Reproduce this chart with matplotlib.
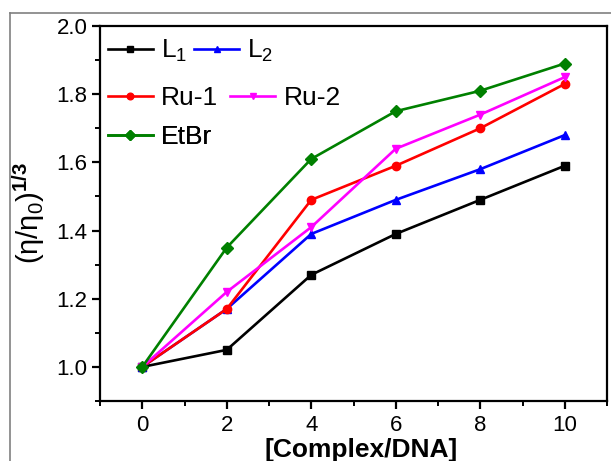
import numpy as np
import matplotlib
matplotlib.use("Agg")
import matplotlib.pyplot as plt
from matplotlib.lines import Line2D

plt.rcParams['font.family'] = ['Liberation Sans', 'DejaVu Sans']
plt.rcParams['mathtext.fontset'] = 'custom'
plt.rcParams['mathtext.rm'] = 'Liberation Sans'
plt.rcParams['mathtext.it'] = 'Liberation Sans'
plt.rcParams['mathtext.bf'] = 'Liberation Sans:bold'

# datos
ratio = [0, 2, 4, 6, 8, 10]
L1 = [1.00, 1.05, 1.27, 1.39, 1.49, 1.59]
L2 = [1.00, 1.17, 1.39, 1.49, 1.58, 1.68]
Ru1 = [1.00, 1.17, 1.49, 1.59, 1.70, 1.83]
Ru2 = [1.00, 1.22, 1.41, 1.64, 1.74, 1.85]
EtBr = [1.00, 1.35, 1.61, 1.75, 1.81, 1.89]

nombres = ['L$_1$', 'L$_2$', 'Ru-1', 'Ru-2', 'EtBr']
colores = ['black', '#0000FF', '#FF0000', '#FF00FF', '#008000']
marcas = ['s', '^', 'o', 'v', 'D']
series = [L1, L2, Ru1, Ru2, EtBr]

fig = plt.figure(figsize=(6.11, 4.61), dpi=100)
ax = fig.add_axes([100/611, 1-401/461, 507/611, 375/461])

lineas = []
for y, c, m, n in zip(series, colores, marcas, nombres):
    l, = ax.plot(ratio, y, color=c, marker=m, markersize=6, linewidth=1.9, label=n)
    lineas.append(l)

ax.set_xlim(-1, 11)
ax.set_ylim(0.9, 2.0)
ax.set_xticks([0, 2, 4, 6, 8, 10])
ax.set_xticks(np.arange(-1, 12, 1), minor=True)
ax.set_yticks([1.0, 1.2, 1.4, 1.6, 1.8, 2.0])
ax.set_yticks(np.arange(0.9, 2.01, 0.1), minor=True)
ax.yaxis.set_major_formatter(matplotlib.ticker.FormatStrFormatter('%.1f'))
ax.tick_params(which='major', direction='out', length=6, width=1.6, labelsize=16, pad=3)
ax.tick_params(which='minor', direction='out', length=3.5, width=1.4)
ax.tick_params(axis='x', which='major', pad=4)
for s in ax.spines.values():
    s.set_linewidth(1.6)

ax.set_xlabel('[Complex/DNA]', fontsize=19, fontweight='bold')
ax.xaxis.set_label_coords(0.515, -0.13)
ax.xaxis.label.set_va('center')
ax.set_ylabel(r'$(η/η_0)^{\mathbf{1/3}}$', fontsize=21)
ax.yaxis.set_label_coords(-0.14, 0.5)
ax.yaxis.label.set_va('center')

# leyenda en tres filas como en el original
filas = [([0, 1], 51, 0.25), ([2, 3], 98, 0.45), ([4], 137, 0.3)]
for idx, ypix, cs in filas:
    leg = ax.legend([lineas[i] for i in idx], [nombres[i] for i in idx],
                    ncol=2, loc='center left', frameon=False, fontsize=19,
                    bbox_to_anchor=(108/611, 1-ypix/461), bbox_transform=fig.transFigure,
                    borderpad=0, borderaxespad=0, handlelength=1.7,
                    handletextpad=0.32, columnspacing=cs, markerscale=0.8)
    ax.add_artist(leg)

# marco gris de la imagen
fig.add_artist(Line2D([9.5/611, 9.5/611], [0, 1-13/461], color='#808080', linewidth=1.2))
fig.add_artist(Line2D([9.5/611, 1], [1-13/461, 1-13/461], color='#808080', linewidth=1.2))

fig.savefig('out.png', dpi=100)
